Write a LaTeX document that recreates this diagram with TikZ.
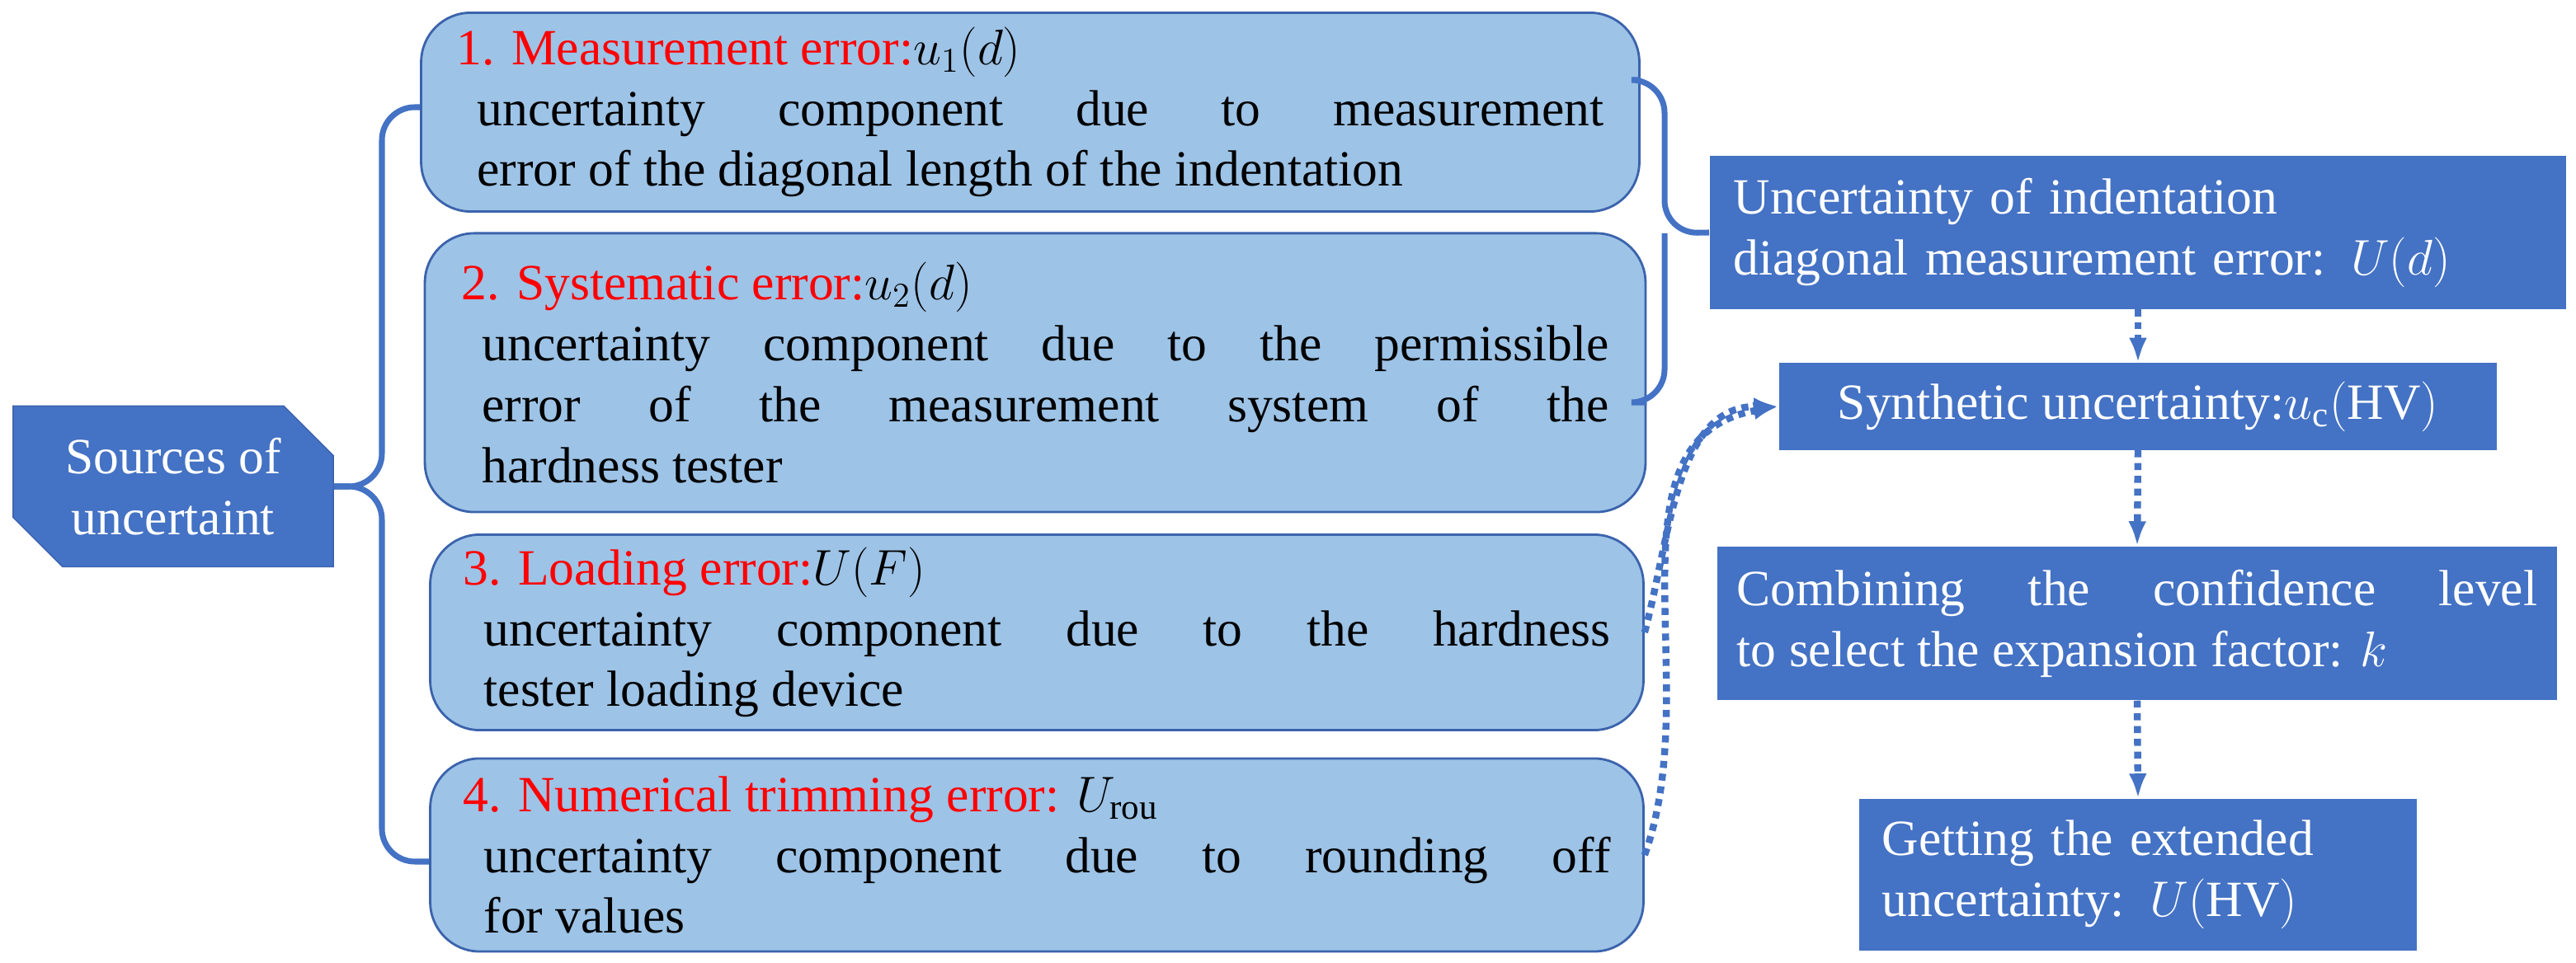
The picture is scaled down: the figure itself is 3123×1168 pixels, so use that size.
\documentclass[tikz,border=0pt]{standalone}
\usepackage{fontspec}
\setmainfont{Liberation Serif}
\usetikzlibrary{shapes.misc, positioning, calc, arrows.meta}
\definecolor{darkblue}{HTML}{4472C4}
\definecolor{lightblue}{HTML}{9DC3E6}
\definecolor{edgeblue}{HTML}{3B63AC}
\definecolor{titlered}{HTML}{FF0000}

\begin{document}
\begin{tikzpicture}[x=0.01cm, y=-0.01cm,
    every node/.style={font=\fontsize{17.5}{21}\selectfont}]

  \tikzset{srcbox/.style={draw=edgeblue, fill=lightblue, thick, rounded corners=0.6cm,
      inner sep=0pt, text width=13.9cm, align=justify}}
  \tikzset{stepbox/.style={fill=darkblue, text=white, inner sep=0pt, align=left}}
  \tikzset{brace/.style={draw=darkblue, line width=2pt, rounded corners=0.4cm}}
  \tikzset{flow/.style={draw=darkblue, line width=2.4pt, dotted, -{Latex[length=0.3cm, width=0.22cm]}}}
  \newcommand{\ttl}[1]{\textcolor{titlered}{#1}}

  \useasboundingbox (0,0) rectangle (3123,1168);

  % sources
  \node[chamfered rectangle, chamfered rectangle corners={north east, south west},
    chamfered rectangle xsep=0.3cm, chamfered rectangle ysep=0.3cm,
    fill=darkblue, draw=edgeblue, text=white, minimum width=3.88cm, minimum height=1.95cm,
    align=center, inner sep=0pt] at (210,590) (src) {Sources of\\uncertaint};

  % error boxes
  \node[srcbox, minimum width=14.76cm, minimum height=2.41cm] at (1249,136) (b1)
    {\ttl{1. Measurement error:}$u_1(d)$\\
     \hspace*{0.25cm}uncertainty component due to measurement\linebreak
     \hspace*{0.25cm}error of the diagonal length of the indentation};
  \node[srcbox, minimum width=14.79cm, minimum height=3.38cm] at (1255,452) (b2)
    {\ttl{2. Systematic error:}$u_2(d)$\\
     \hspace*{0.25cm}uncertainty component due to the permissible\linebreak
     \hspace*{0.25cm}error of the measurement system of the\linebreak
     \hspace*{0.25cm}hardness tester};
  \node[srcbox, minimum width=14.70cm, minimum height=2.37cm] at (1257,767) (b3)
    {\ttl{3. Loading error:}$U(F)$\\
     \hspace*{0.25cm}uncertainty component due to the hardness\linebreak
     \hspace*{0.25cm}tester loading device};
  \node[srcbox, minimum width=14.70cm, minimum height=2.34cm] at (1257,1037) (b4)
    {\ttl{4. Numerical trimming error:} $U_{\mathrm{rou}}$\\
     \hspace*{0.25cm}uncertainty component due to rounding off\linebreak
     \hspace*{0.25cm}for values};

  % result steps
  \node[stepbox, minimum width=10.38cm, minimum height=1.85cm, text width=9.8cm] at (2592,282) (r1)
    {Uncertainty of indentation\\diagonal measurement error: $U(d)$};
  \node[stepbox, minimum width=8.70cm, minimum height=1.05cm, align=center] at (2592,493) (r2)
    {Synthetic uncertainty:$u_{\mathrm{c}}(\mathrm{HV})$};
  \node[stepbox, minimum width=10.18cm, minimum height=1.86cm, text width=9.7cm, align=justify] at (2591,756) (r3)
    {Combining the confidence level\linebreak to select the expansion factor: $k$};
  \node[stepbox, minimum width=6.76cm, minimum height=1.84cm, text width=6.2cm] at (2592,1061) (r4)
    {Getting the extended\\uncertainty: $U(\mathrm{HV})$};

  % braces
  \draw[brace] (src.east) -| (463,130) -- ($(b1.west)+(0,-6)$);
  \draw[brace] (src.east) -| (463,1045) -- ($(b4.west)+(0,8)$);
  \draw[brace] ($(b1.east)+(0,-39)$) -| (2018,283) -- (r1.west);
  \draw[brace] ($(b2.east)+(0,36)$) -| (2018,283);

  % flow
  \draw[flow] (r1.south) -- (r2.north);
  \draw[flow] (r2.south) -- (r3.north);
  \draw[flow] (r3.south) -- (r4.north);
  \draw[flow] (b3.east) to[out=75, in=180] (r2.west);
  \draw[flow] (b4.east) to[out=70, in=190] (r2.west);
\end{tikzpicture}
\end{document}
